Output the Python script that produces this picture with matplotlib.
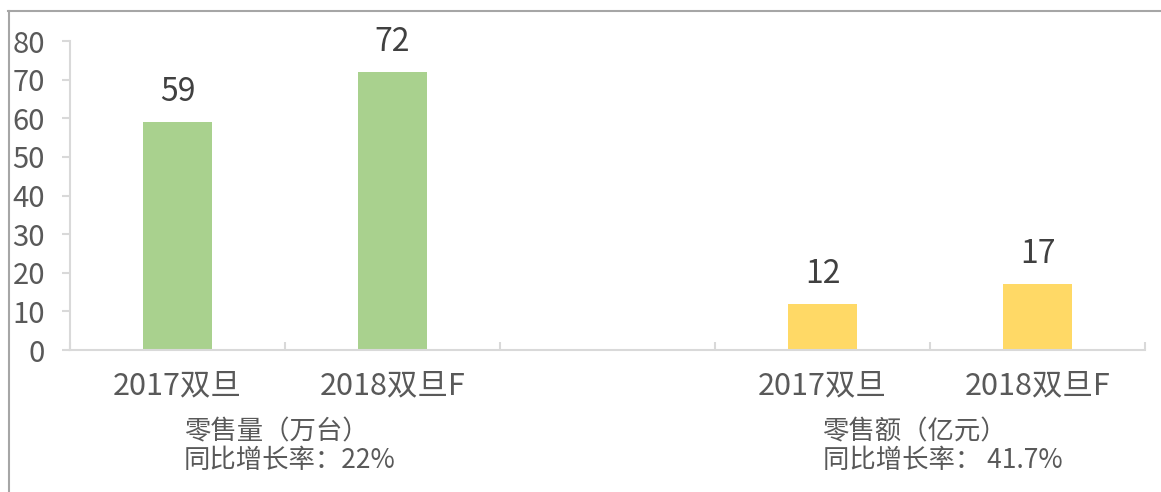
import matplotlib.pyplot as plt
import numpy as np
from matplotlib.lines import Line2D

plt.rcParams['font.family'] = ['Noto Sans CJK SC', 'DejaVu Sans']
plt.rcParams['font.weight'] = 'light'

# 零售量（万台）
vol_labels = ['2017双旦', '2018双旦F']
vol_values = [59, 72]
# 零售额（亿元）
amt_labels = ['2017双旦', '2018双旦F']
amt_values = [12, 17]

vol_note = '零售量（万台）\n同比增长率：22%'
amt_note = '零售额（亿元）\n同比增长率： 41.7%'

green = '#A9D18E'
yellow = '#FFD966'
txt = '#595959'
axis_col = '#D9D9D9'

fig = plt.figure(figsize=(11.61, 4.92), dpi=100)
ax = fig.add_axes([0.0603, 0.2886, 0.926, 0.628])

pos_vol = np.arange(len(vol_labels))
pos_amt = np.arange(len(amt_labels)) + len(vol_labels) + 1

b1 = ax.bar(pos_vol, vol_values, width=0.32, color=green)
b2 = ax.bar(pos_amt, amt_values, width=0.32, color=yellow)
ax.bar_label(b1, padding=10, fontsize=23, color='#404040')
ax.bar_label(b2, padding=10, fontsize=23, color='#404040')

ax.set_xlim(-0.5, 4.5)
ax.set_ylim(0, 80)
ax.set_yticks(np.arange(0, 81, 10))
ax.set_xticks(np.concatenate([pos_vol, pos_amt]))
ax.set_xticklabels(vol_labels + amt_labels)
ax.set_xticks(np.arange(-0.5, 4.6, 1), minor=True)

ax.tick_params(axis='x', which='major', length=0, pad=15, labelsize=22, labelcolor=txt)
ax.tick_params(axis='x', which='minor', direction='in', length=6, width=1.5, color=axis_col)
ax.tick_params(axis='y', direction='out', length=6, width=1.5, color=axis_col,
               pad=12, labelsize=21, labelcolor=txt)

for s in ['top', 'right']:
    ax.spines[s].set_visible(False)
for s in ['left', 'bottom']:
    ax.spines[s].set_color(axis_col)
    ax.spines[s].set_linewidth(1.5)

ax.text(0.03, -0.22, vol_note, transform=ax.get_xaxis_transform(), ha='left', va='top',
        fontsize=19, color=txt, linespacing=1.1)
ax.text(3.0, -0.22, amt_note, transform=ax.get_xaxis_transform(), ha='left', va='top',
        fontsize=19, color=txt, linespacing=1.1)

# outer frame lines (top and left)
fig.add_artist(Line2D([8 / 1161, 1], [1 - 11 / 492, 1 - 11 / 492], color='#A6A6A6', lw=1.5,
                      transform=fig.transFigure))
fig.add_artist(Line2D([9 / 1161, 9 / 1161], [0, 1 - 11 / 492], color='#A6A6A6', lw=1.5,
                      transform=fig.transFigure))

fig.savefig('out.png', dpi=100)
